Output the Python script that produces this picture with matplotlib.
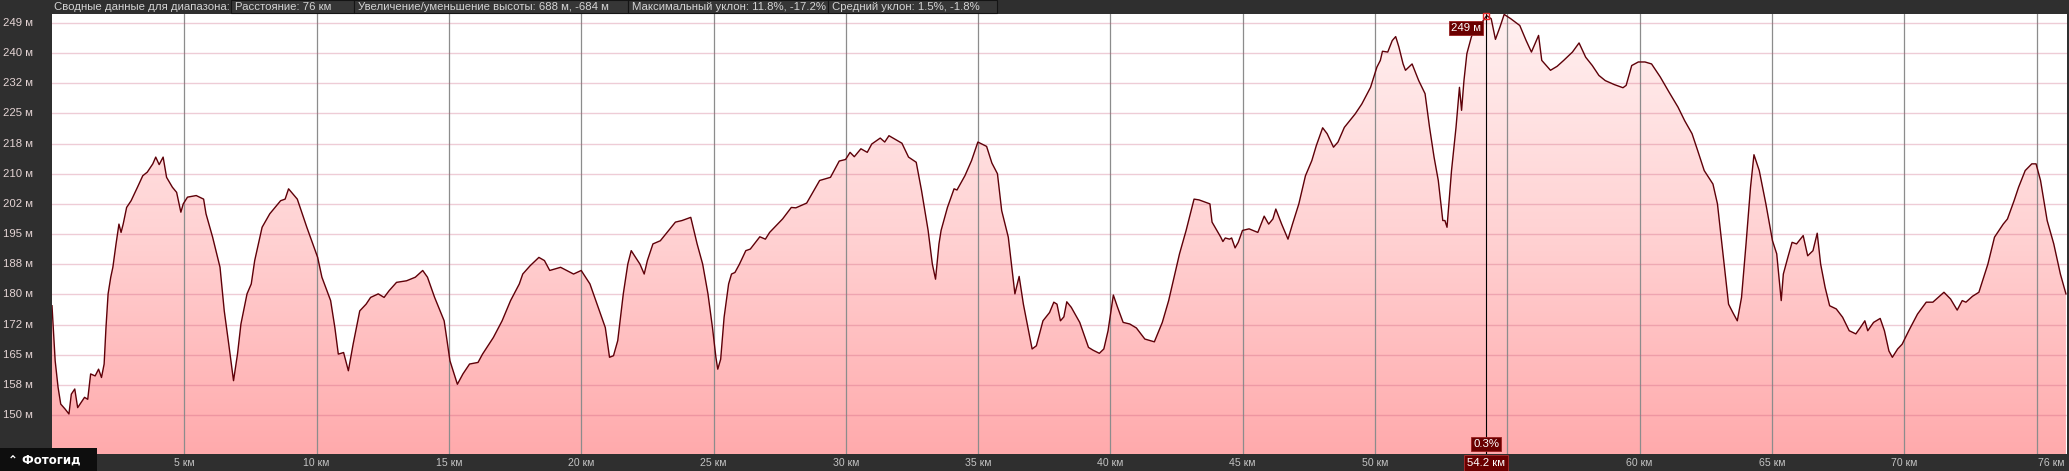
import matplotlib
matplotlib.use('Agg')
import matplotlib.pyplot as plt
from matplotlib.colors import LinearSegmentedColormap
from matplotlib.patches import Rectangle
import numpy as np

# elevation profile
dist_km = [
    0.00, 0.12, 0.23, 0.33, 0.50, 0.64, 0.73, 0.86, 0.97, 1.10,
    1.23, 1.35, 1.46, 1.63, 1.76, 1.87, 1.97, 2.04, 2.12, 2.22,
    2.30, 2.42, 2.53, 2.61, 2.69, 2.82, 2.99, 3.23, 3.43, 3.60,
    3.81, 3.92, 4.05, 4.20, 4.33, 4.55, 4.71, 4.87, 4.96, 5.12,
    5.45, 5.73, 5.82, 6.07, 6.35, 6.51, 6.68, 6.86, 7.01, 7.14,
    7.37, 7.53, 7.66, 7.94, 8.23, 8.64, 8.81, 8.94, 9.27, 9.63,
    10.04, 10.20, 10.53, 10.69, 10.82, 11.02, 11.20, 11.38, 11.63, 11.87,
    12.04, 12.33, 12.55, 12.74, 13.02, 13.40, 13.73, 14.01, 14.19, 14.46,
    14.82, 15.04, 15.32, 15.53, 15.78, 16.10, 16.27, 16.68, 17.01, 17.33,
    17.66, 17.79, 18.07, 18.40, 18.61, 18.81, 19.22, 19.71, 20.00, 20.33,
    20.69, 20.91, 21.07, 21.22, 21.38, 21.59, 21.76, 21.89, 22.22, 22.38,
    22.50, 22.71, 22.99, 23.56, 23.81, 24.14, 24.38, 24.59, 24.79, 24.96, 25.09,
    25.16, 25.27, 25.40, 25.57, 25.68, 25.81, 25.98, 26.22, 26.39, 26.75,
    26.96, 27.12, 27.61, 27.94, 28.11, 28.52, 29.01, 29.42, 29.75, 29.99,
    30.16, 30.32, 30.57, 30.81, 30.98, 31.30, 31.47, 31.63, 32.12, 32.37,
    32.66, 32.86, 33.11, 33.27, 33.39, 33.52, 33.60, 33.84, 34.09, 34.20,
    34.50, 34.75, 34.99, 35.32, 35.52, 35.73, 35.89, 36.14, 36.39, 36.55,
    36.71, 37.04, 37.20, 37.45, 37.70, 37.86, 37.98, 38.11, 38.24, 38.35,
    38.52, 38.84, 39.17, 39.34, 39.58, 39.75, 39.91, 40.11, 40.27, 40.48,
    40.73, 40.98, 41.30, 41.66, 41.96, 42.20, 42.61, 42.86, 43.16, 43.35,
    43.76, 43.84, 44.17, 44.25, 44.34, 44.50, 44.58, 44.71, 44.83, 44.99,
    45.24, 45.57, 45.81, 45.98, 46.14, 46.25, 46.47, 46.71, 46.88, 47.12,
    47.37, 47.61, 47.78, 48.02, 48.19, 48.43, 48.60, 48.84, 49.25, 49.50,
    49.83, 50.07, 50.20,
    50.28, 50.48, 50.65, 50.78, 50.90, 51.06, 51.15, 51.40, 51.65, 51.89,
    52.06, 52.23, 52.39, 52.56, 52.64, 52.72, 52.89, 53.06, 53.19, 53.27,
    53.36, 53.47, 53.64, 53.80, 54.05, 54.22, 54.39, 54.55, 54.72, 54.88,
    55.13, 55.47, 55.71, 55.91, 56.18, 56.30, 56.63, 56.88, 57.13, 57.46,
    57.71, 57.96, 58.21, 58.46, 58.70, 59.04, 59.37, 59.49, 59.70, 59.95,
    60.20, 60.45, 60.78, 61.11, 61.45, 61.70, 61.98, 62.19, 62.44, 62.77,
    62.94, 63.19, 63.36, 63.52, 63.69, 63.85, 64.02, 64.19, 64.32, 64.52,
    64.77, 65.02, 65.18, 65.35, 65.43, 65.60, 65.76, 65.93, 66.18, 66.35,
    66.55, 66.71, 66.84, 67.01, 67.18, 67.43, 67.67, 67.92, 68.17, 68.34,
    68.51, 68.62, 68.84, 69.09, 69.25, 69.42, 69.55, 69.75, 69.92, 70.17,
    70.50, 70.83, 71.08, 71.50, 71.75, 72.00, 72.19, 72.33, 72.58, 72.82,
    73.16, 73.41, 73.74, 73.90, 74.15, 74.32, 74.57, 74.82, 74.98, 75.15,
    75.40, 75.65, 75.90, 76.11,
]
elev_m = [
    177.6, 163.7, 157.0, 152.8, 151.5, 150.3, 155.3, 156.6, 151.9, 153.2,
    154.5, 154.0, 160.4, 159.9, 161.6, 159.5, 162.9, 172.1, 180.6, 184.8,
    187.3, 193.2, 198.2, 196.1, 198.2, 202.4, 204.1, 207.5, 210.4, 211.3,
    213.4, 215.1, 213.2, 215.1, 210.0, 207.5, 206.2, 201.2, 203.3, 205.0,
    205.4, 204.5, 200.8, 194.9, 187.3, 176.3, 167.9, 158.7, 165.4, 173.0,
    180.6, 183.1, 189.0, 197.4, 200.8, 204.1, 204.5, 207.1, 204.5, 197.4,
    189.8, 184.8, 178.9, 172.1, 165.4, 165.8, 161.2, 167.9, 176.3, 178.0,
    179.7, 180.6, 179.7, 181.4, 183.5, 183.9, 184.8, 186.5, 184.8, 179.7,
    173.8, 163.7, 157.8, 160.4, 162.9, 163.3, 165.4, 169.6, 173.8, 178.9,
    183.1, 185.6, 187.7, 189.8, 189.0, 186.5, 187.3, 185.6, 186.5, 183.1,
    176.3, 172.1, 164.6, 165.0, 168.8, 180.6, 188.1, 191.5, 188.1, 185.6,
    189.0, 193.2, 194.0, 198.7, 199.1, 199.9, 193.2, 188.1, 180.6, 172.1, 164.6,
    161.6, 164.1, 174.7, 183.1, 185.6, 186.0, 188.1, 191.5, 191.9, 195.0,
    194.4, 196.1, 199.5, 202.4, 202.3, 203.5, 209.2, 210.0, 214.1, 214.5,
    216.3, 215.2, 217.2, 216.3, 218.4, 219.9, 218.9, 220.5, 218.6, 215.1,
    213.8, 206.7, 196.6, 188.1, 184.3, 193.2, 196.6, 202.4, 207.1, 206.8,
    210.4, 214.2, 218.9, 217.8, 213.6, 210.9, 201.6, 194.9, 180.6, 185.0,
    178.0, 166.7, 167.5, 173.8, 175.9, 178.5, 178.0, 173.8, 174.8, 178.6,
    177.2, 173.4, 167.1, 166.4, 165.6, 166.7, 171.3, 180.3, 177.2, 173.4,
    173.0, 172.0, 169.2, 168.5, 173.4, 178.9, 190.7, 196.6, 204.5, 204.3,
    203.3, 198.7, 194.9, 193.8, 194.7, 194.4, 194.7, 192.2, 193.6, 196.6,
    197.0, 196.1, 200.2, 198.2, 199.5, 202.0, 198.2, 194.4, 198.2, 203.3,
    210.4, 214.2, 218.0, 222.5, 221.0, 217.6, 218.9, 222.6, 226.0, 228.5,
    232.7, 237.8, 239.5,
    241.8, 241.6, 244.5, 245.5, 242.9, 238.6, 237.0, 238.6, 234.4, 231.1,
    222.6, 215.1, 209.2, 199.1, 199.1, 197.4, 211.7, 222.6, 232.7, 226.9,
    234.4, 241.2, 245.4, 248.3, 249.2, 250.8, 250.0, 244.8, 247.9, 251.1,
    250.0, 248.3, 244.5, 241.6, 245.8, 239.5, 237.0, 238.0, 239.5, 241.6,
    243.9, 240.3, 238.2, 235.7, 234.4, 233.4, 232.6, 233.2, 238.2, 239.1,
    239.1, 238.6, 235.3, 231.5, 227.7, 224.3, 221.0, 216.8, 211.7, 208.3,
    203.3, 188.1, 178.0, 175.9, 173.8, 179.7, 193.2, 207.5, 215.7, 211.7,
    203.3, 194.0, 190.7, 178.9, 185.6, 189.8, 193.6, 193.2, 195.3, 190.2,
    191.5, 195.9, 188.1, 182.2, 177.6, 176.8, 174.7, 171.3, 170.5, 172.1,
    173.8, 171.3, 173.4, 174.4, 171.3, 166.2, 164.6, 166.7, 167.9, 171.3,
    175.5, 178.5, 178.5, 181.0, 179.3, 176.5, 178.9, 178.5, 180.0, 181.0,
    188.1, 194.9, 198.2, 199.5, 204.1, 207.5, 211.7, 213.4, 213.4, 209.2,
    199.1, 193.2, 185.6, 180.6,
]

ytick_pos = [150.0, 157.6, 165.2, 172.8, 180.5, 188.1, 195.7, 203.3,
             210.9, 218.5, 226.2, 233.8, 241.4, 249.0]
ytick_lab = ['150 м', '158 м', '165 м', '172 м', '180 м', '188 м', '195 м', '202 м',
             '210 м', '218 м', '225 м', '232 м', '240 м', '249 м']
xtick_pos = [5, 10, 15, 20, 25, 30, 35, 40, 45, 50, 55, 60, 65, 70, 75]
xtick_lab = ['5 км', '10 км', '15 км', '20 км', '25 км', '30 км', '35 км', '40 км',
             '45 км', '50 км', '', '60 км', '65 км', '70 км', '76 км']

summary = ['Расстояние: 76 км', 'Увеличение/уменьшение высоты: 688 м, -684 м',
           'Максимальный уклон: 11.8%, -17.2%', 'Средний уклон: 1.5%, -1.8%']
marker_km = 54.2
marker_km_lab = '54.2 км'
marker_lab = '249 м'
marker_grade = '0.3%'

ymin, ymax = 140.2, 251.2
xmax = 76.15
W, H = 2069, 471
bg = '#2f2f2f'
txtcol = '#d4d4d4'

plt.rcParams.update({'font.family': ['Liberation Sans', 'DejaVu Sans']})

fig = plt.figure(figsize=(W / 100, H / 100), dpi=100)
fig.set_facecolor(bg)
ax = fig.add_axes([52 / W, 17 / H, 2015 / W, 440 / H])
ax.set_facecolor('white')
ax.set_xlim(0, xmax)
ax.set_ylim(ymin, ymax)

# pink gradient under the curve
cmap = LinearSegmentedColormap.from_list('pk', ['#ffaaac', '#ffd2d3', '#fff0f0'])
grad = np.linspace(0, 1, 256).reshape(-1, 1)
im = ax.imshow(grad, extent=[0, xmax, ymin, ymax], origin='lower', aspect='auto',
               cmap=cmap, zorder=1)
poly = ax.fill_between(dist_km, elev_m, ymin, facecolor='none', edgecolor='none')
im.set_clip_path(poly.get_paths()[0], transform=ax.transData)
ax.plot(dist_km, elev_m, color='#5e0008', lw=1.0, zorder=3)

ax.set_xticks(xtick_pos)
ax.set_yticks(ytick_pos)
ax.set_axisbelow(False)
ax.yaxis.grid(True, color='#c8587a', alpha=0.3, lw=1.0)
ax.xaxis.grid(True, color='#8c8c8c', lw=0.9)
ax.tick_params(length=0, labelleft=False, labelbottom=False)
for s in ax.spines.values():
    s.set_visible(False)

for p, lab in zip(ytick_pos, ytick_lab):
    ax.annotate(lab, xy=(0, p), xycoords=('axes fraction', 'data'), xytext=(-49, 0),
                textcoords='offset pixels', ha='left', va='center',
                color='#e4d4d4', fontsize=8.2, annotation_clip=False)
for p, lab in zip(xtick_pos[:-1], xtick_lab[:-1]):
    ax.annotate(lab, xy=(p, ymin), xytext=(0, -9), textcoords='offset pixels',
                ha='center', va='center', color='#c4c4c4', fontsize=7.6,
                annotation_clip=False)
ax.annotate(xtick_lab[-1], xy=(1, 0), xycoords='axes fraction', xytext=(-2, -9),
            textcoords='offset pixels', ha='right', va='center', color='#c4c4c4',
            fontsize=7.6, annotation_clip=False)

# summary bar at the top
fig.text(54 / W, 1 - 7 / H, 'Сводные данные для диапазона:', ha='left', va='center',
         color=txtcol, fontsize=8.2)
box_x = [231, 354, 628, 828, 997]
for i, s in enumerate(summary):
    fig.patches.append(Rectangle((box_x[i] / W, 1 - 13 / H), (box_x[i + 1] - box_x[i]) / W,
                                 13 / H, transform=fig.transFigure, fc='#363636',
                                 ec='#141414', lw=0.8))
    fig.text((box_x[i] + 4) / W, 1 - 7 / H, s, ha='left', va='center',
             color=txtcol, fontsize=8.2)

# cursor marker
marker_elev = np.interp(marker_km, dist_km, elev_m)
ax.axvline(marker_km, color='black', lw=0.8, zorder=4)
ax.plot(marker_km, marker_elev, marker='s', mfc='none', mec='#e02828', ms=5, mew=1,
        zorder=5, clip_on=False)
lbl = dict(color='white', fontsize=8.2, zorder=6, annotation_clip=False)
ax.annotate(marker_lab, xy=(marker_km, ymax), xytext=(-5, -14), textcoords='offset pixels',
            ha='right', va='center',
            bbox=dict(boxstyle='square,pad=0.18', fc='#6a0000', ec='#9a2020', lw=0.6), **lbl)
ax.annotate(marker_grade, xy=(marker_km, ymin), xytext=(0, 10), textcoords='offset pixels',
            ha='center', va='center',
            bbox=dict(boxstyle='square,pad=0.18', fc='#6a0000', ec='#9a2020', lw=0.6), **lbl)
ax.annotate(marker_km_lab, xy=(marker_km, ymin), xytext=(0, -9),
            textcoords='offset pixels', ha='center', va='center',
            bbox=dict(boxstyle='square,pad=0.25', fc='#6a0000', ec='#b03030', lw=0.6), **lbl)

# Фотогид button
fig.patches.append(Rectangle((0, 0), 97 / W, 23 / H, transform=fig.transFigure,
                             fc='#0e0e0e', ec='none'))
fig.text(8 / W, 11 / H, '\u2303 Фотогид', ha='left', va='center', color='white',
         fontsize=8.5, fontweight='bold', family=['DejaVu Sans'])

fig.savefig('out.png', dpi=100, facecolor=bg)
